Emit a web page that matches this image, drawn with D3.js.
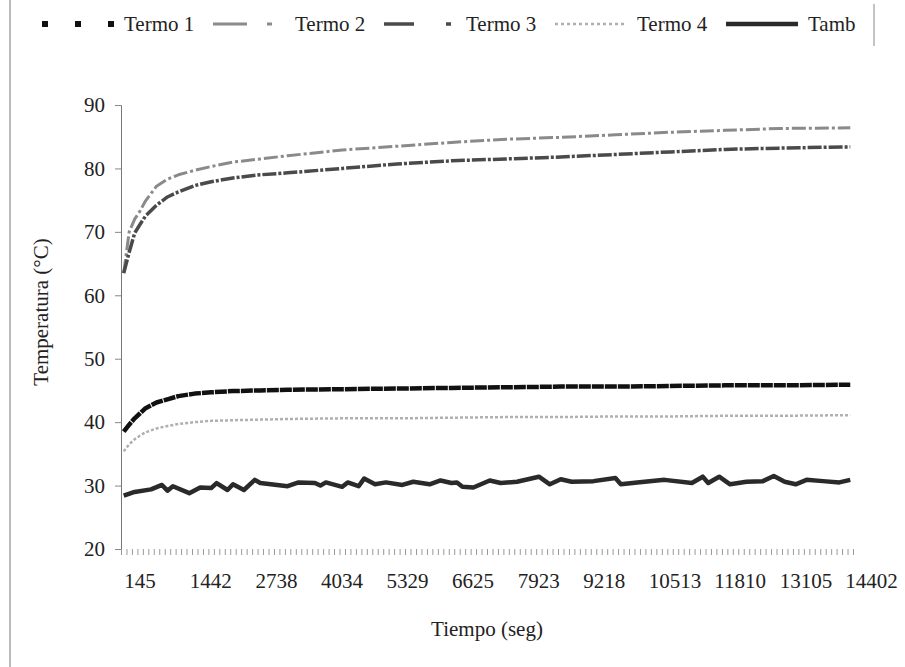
<!DOCTYPE html>
<html>
<head>
<meta charset="utf-8">
<script src="https://cdn.jsdelivr.net/npm/d3@7"></script>
<style>
  body { margin: 0; background: #fff; }
  text { font-family: "Liberation Serif", "Times New Roman", serif; fill: #222; }
</style>
</head>
<body>
<div id="chart"></div>
<script>
// Sample times (seg) for the four thermocouples
const tiempo = [145, 253, 361, 469, 577, 793, 1009, 1225, 1549, 1873, 2305, 2845, 3385,
  4465, 5545, 6625, 7705, 8785, 9865, 10945, 12025, 13105, 14509];

const termo1 = [38.5, 39.6, 40.6, 41.4, 42.2, 43.1, 43.6, 44.1, 44.5, 44.7, 44.9, 45.0, 45.1,
  45.2, 45.3, 45.4, 45.5, 45.6, 45.6, 45.7, 45.8, 45.8, 45.9];
const termo2 = [63.5, 70.0, 72.0, 73.3, 74.9, 77.2, 78.3, 79.0, 79.7, 80.3, 81.0, 81.5, 82.0,
  82.9, 83.5, 84.1, 84.6, 84.9, 85.3, 85.7, 86.0, 86.3, 86.4];
const termo3 = [63.5, 66.8, 69.8, 71.2, 72.5, 74.2, 75.5, 76.3, 77.3, 77.9, 78.5, 79.0, 79.3,
  80.0, 80.7, 81.2, 81.5, 81.8, 82.2, 82.6, 83.0, 83.2, 83.4];
const termo4 = [35.4, 36.5, 37.3, 37.9, 38.4, 39.0, 39.4, 39.7, 40.0, 40.2, 40.3, 40.4, 40.5,
  40.6, 40.6, 40.7, 40.8, 40.8, 40.9, 40.9, 41.0, 41.0, 41.1];

// Ambient temperature, read at its own turning points
const tiempoAmb = [145, 361, 685, 901, 1009, 1117, 1441, 1657, 1873, 1981, 2197, 2305, 2521,
  2737, 2845, 3385, 3601, 3925, 4033, 4141, 4465, 4573, 4789, 4897, 5113, 5329, 5653, 5869,
  6193, 6409, 6625, 6733, 6841, 7057, 7381, 7597, 7921, 8353, 8569, 8785, 9001, 9433, 9865,
  9973, 10297, 10837, 11377, 11593, 11701, 11917, 12133, 12457, 12781, 12997, 13213, 13429,
  13645, 13969, 14293, 14509];
const tamb = [28.4, 29.0, 29.4, 30.1, 29.2, 29.9, 28.8, 29.7, 29.6, 30.4, 29.3, 30.2, 29.3,
  30.9, 30.4, 29.9, 30.5, 30.4, 30.0, 30.5, 29.8, 30.5, 29.9, 31.1, 30.2, 30.5, 30.1, 30.6,
  30.2, 30.8, 30.4, 30.5, 29.8, 29.7, 30.8, 30.4, 30.6, 31.4, 30.2, 31.0, 30.6, 30.7, 31.2,
  30.2, 30.5, 30.9, 30.4, 31.4, 30.4, 31.4, 30.2, 30.6, 30.7, 31.5, 30.6, 30.2, 30.9, 30.7,
  30.5, 30.9];

const xLabels = [145, 1442, 2738, 4034, 5329, 6625, 7923, 9218, 10513, 11810, 13105, 14402];
const yTicks = [20, 30, 40, 50, 60, 70, 80, 90];
const seriesNames = ['Termo 1', 'Termo 2', 'Termo 3', 'Termo 4', 'Tamb'];

const width = 905, height = 667;
const step = 108; // category width in seconds
const plot = { left: 121, right: 853, top: 105, bottom: 549 };

const svg = d3.select('#chart').append('svg')
  .attr('width', width)
  .attr('height', height);

svg.append('rect').attr('width', width).attr('height', height).attr('fill', '#fff');

// frame remnants
svg.append('line').attr('x1', 10).attr('x2', 10).attr('y1', 0).attr('y2', height)
  .attr('stroke', '#777').attr('stroke-width', 1);
svg.append('line').attr('x1', 874).attr('x2', 874).attr('y1', 4).attr('y2', 46)
  .attr('stroke', '#888').attr('stroke-width', 1);

const x = d3.scaleLinear()
  .domain([145 - step / 2, 145 + 133 * step + step / 2])
  .range([plot.left, plot.right]);

const y = d3.scaleLinear()
  .domain([20, 90])
  .range([plot.bottom, plot.top]);

// y axis
const yAxis = svg.append('g')
  .attr('transform', `translate(${plot.left},0)`)
  .call(d3.axisLeft(y).tickValues(yTicks).tickSize(6).tickPadding(10));
yAxis.select('.domain').attr('stroke', '#777');
yAxis.selectAll('.tick line').attr('stroke', '#888');
yAxis.selectAll('text')
  .style('font-size', '21px')
  .attr('fill', '#222');

// x axis: small tick marks at category boundaries
const boundaries = d3.range(0, 135).map(k => 145 - step / 2 + k * step);
const xTicks = svg.append('g')
  .attr('transform', `translate(0,${plot.bottom})`)
  .call(d3.axisBottom(x).tickValues(boundaries).tickSize(6).tickFormat(''));
xTicks.select('.domain').remove();
xTicks.selectAll('.tick line').attr('stroke', '#999');

// x axis labels (left aligned like the original)
const xLab = svg.append('g')
  .attr('transform', `translate(0,${plot.bottom})`)
  .call(d3.axisBottom(x).tickValues(xLabels).tickSize(0).tickPadding(24)
    .tickFormat(d3.format('d')));
xLab.select('.domain').remove();
xLab.selectAll('text')
  .attr('text-anchor', 'start')
  .style('font-size', '21px')
  .attr('fill', '#222');

// axis titles
svg.append('text')
  .attr('x', 487).attr('y', 636)
  .attr('text-anchor', 'middle')
  .style('font-size', '21px')
  .text('Tiempo (seg)');

svg.append('text')
  .attr('transform', 'translate(48,312) rotate(-90)')
  .attr('text-anchor', 'middle')
  .style('font-size', '21px')
  .text('Temperatura (°C)');

// series
const styles = [
  { stroke: '#111', width: 4.5, dash: '12,1', legendDash: '6,27' },
  { stroke: '#8a8a8a', width: 3, dash: '14,3,3,3', legendDash: '34,20,5,20' },
  { stroke: '#4a4a4a', width: 3.5, dash: '14,2,3,2', legendDash: '30,32,5,20' },
  { stroke: '#b0b0b0', width: 2.5, dash: '3,2', legendDash: '3,3' },
  { stroke: '#2a2a2a', width: 4.5, dash: null, legendDash: null }
];

const seriesData = [
  tiempo.map((t, i) => [t, termo1[i]]),
  tiempo.map((t, i) => [t, termo2[i]]),
  tiempo.map((t, i) => [t, termo3[i]]),
  tiempo.map((t, i) => [t, termo4[i]]),
  tiempoAmb.map((t, i) => [t, tamb[i]])
];

const line = d3.line()
  .x(d => x(d[0]))
  .y(d => y(d[1]));

// draw lighter lines first, dark ones on top
const order = [3, 1, 2, 0, 4];
order.forEach(i => {
  svg.append('path')
    .datum(seriesData[i])
    .attr('fill', 'none')
    .attr('stroke', styles[i].stroke)
    .attr('stroke-width', styles[i].width)
    .attr('stroke-linejoin', 'round')
    .attr('stroke-dasharray', styles[i].dash)
    .attr('d', line);
});

// legend
const legend = svg.append('g').attr('transform', 'translate(0,24)');
seriesNames.forEach((name, i) => {
  const x0 = 42 + i * 171;
  legend.append('line')
    .attr('x1', x0).attr('x2', x0 + 72)
    .attr('y1', 0).attr('y2', 0)
    .attr('stroke', styles[i].stroke)
    .attr('stroke-width', i === 0 ? 6 : styles[i].width)
    .attr('stroke-dasharray', styles[i].legendDash);
  legend.append('text')
    .attr('x', x0 + 82).attr('y', 7)
    .style('font-size', '21px')
    .text(name);
});
</script>
</body>
</html>
